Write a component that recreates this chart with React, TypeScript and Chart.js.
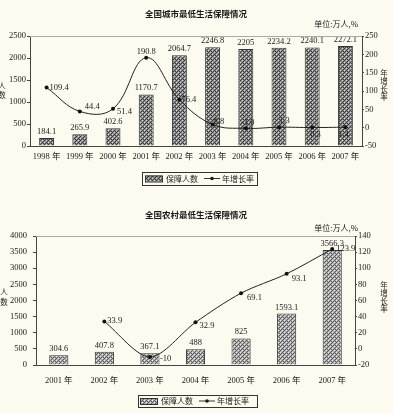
import React, { useEffect, useRef } from 'react';
import { Chart, registerables } from 'chart.js';
Chart.register(...registerables);

// ---------- data ----------
const CITY_YEARS = ['1998 年', '1999 年', '2000 年', '2001 年', '2002 年', '2003 年', '2004 年', '2005 年', '2006 年', '2007 年'];
const CITY_PEOPLE = [184.1, 265.9, 402.6, 1170.7, 2064.7, 2246.8, 2205, 2234.2, 2240.1, 2272.1];
const CITY_GROWTH = [109.4, 44.4, 51.4, 190.8, 76.4, 8.8, -1.9, 1.3, 0.3, 1.4];

const RURAL_YEARS = ['2001 年', '2002 年', '2003 年', '2004 年', '2005 年', '2006 年', '2007 年'];
const RURAL_PEOPLE = [304.6, 407.8, 367.1, 488, 825, 1593.1, 3566.3];
const RURAL_GROWTH: (number | null)[] = [null, 33.9, -10, 32.9, 69.1, 93.1, 123.9];

const CITY_TITLE = '全国城市最低生活保障情况';
const RURAL_TITLE = '全国农村最低生活保障情况';
const UNIT_TEXT = '单位:万人,%';
const LEGEND_BAR = '保障人数';
const LEGEND_LINE = '年增长率';
const LEFT_TITLE = '人数';
const RIGHT_TITLE = '年增长率';

// label placement styles for growth labels: [dx, dy, align]
const CITY_GROWTH_POS: [number, number, CanvasTextAlign][] = [
  [3, 0, 'left'], [5, -5, 'left'], [4, 3, 'left'], [0, -6, 'center'], [2, 0, 'left'],
  [1, -3, 'left'], [2, -6, 'center'], [0, -6, 'left'], [-2, 7, 'left'], [-2, 8, 'center'],
];
const RURAL_GROWTH_POS: [number, number, CanvasTextAlign][] = [
  [3, 0, 'left'], [3, -1, 'left'], [10, 2, 'left'], [4, 3, 'left'], [6, 5, 'left'], [5, 5, 'left'], [4, 0, 'left'],
];

const SERIF = '"Liberation Serif", "Times New Roman", "Noto Sans CJK SC", serif';
const CJK = '"Noto Sans CJK SC", sans-serif';
const TEXT = '#1a1a1a';
const BG = '#fdfbef';

function makePattern(base: string, dark: string, light: string) {
  const c = document.createElement('canvas');
  c.width = 4; c.height = 4;
  const g = c.getContext('2d')!;
  g.fillStyle = base; g.fillRect(0, 0, 4, 4);
  g.fillStyle = dark;
  [[0, 0], [2, 2], [1, 3], [3, 1], [3, 3]].forEach(([x, y]) => g.fillRect(x, y, 1, 1));
  g.fillStyle = light;
  [[2, 0], [0, 2]].forEach(([x, y]) => g.fillRect(x, y, 1, 1));
  return g.createPattern(c, 'repeat')!;
}

type Cfg = {
  labels: string[]; people: number[]; growth: (number | null)[];
  growthPos: [number, number, CanvasTextAlign][];
  leftMax: number; leftStep: number; rightMin: number; rightMax: number; rightStep: number;
  title: string; titleY: number; unitY: number;
  padTop: number; xHeight: number; leftW: number; rightW: number;
  leftTickLen: number; leftPad: number; xPad: number;
  barPct: number; tension: number;
  leftTitleX: number; leftTitleY: number[]; rightTitleX: number; rightTitleY: number[];
  legend: { x0: number; x1: number; y0: number; y1: number; sw0: number; sw1: number; t1: number; l0: number; l1: number; t2: number };
  pat: [string, string, string];
};

function buildChart(canvas: HTMLCanvasElement, cfg: Cfg) {
  const pattern = makePattern(...cfg.pat);
  const font = { family: SERIF, size: 8.5 };
  const plain = (v: any) => String(v);
  const deco = {
    id: 'deco',
    afterDatasetsDraw(chart: any) {
      const ctx = chart.ctx as CanvasRenderingContext2D;
      ctx.save();
      ctx.fillStyle = TEXT;
      ctx.font = `8.5px ${SERIF}`;
      const barMeta = chart.getDatasetMeta(0);
      barMeta.data.forEach((el: any, i: number) => {
        ctx.textAlign = 'center'; ctx.textBaseline = 'bottom';
        ctx.fillText(String(cfg.people[i]), el.x, el.y - 2);
      });
      const lineMeta = chart.getDatasetMeta(1);
      lineMeta.data.forEach((el: any, i: number) => {
        const v = cfg.growth[i];
        if (v === null || v === undefined) return;
        const [dx, dy, al] = cfg.growthPos[i];
        ctx.textAlign = al; ctx.textBaseline = 'middle';
        ctx.fillText(String(v), el.x + dx, el.y + dy);
      });
      ctx.restore();
    },
    afterDraw(chart: any) {
      const ctx = chart.ctx as CanvasRenderingContext2D;
      const a = chart.chartArea;
      ctx.save();
      ctx.strokeStyle = '#aaa'; ctx.lineWidth = 1;
      ctx.beginPath(); ctx.moveTo(a.left, a.top + 0.5); ctx.lineTo(a.right, a.top + 0.5); ctx.stroke();
      ctx.fillStyle = TEXT;
      ctx.font = `bold 8.5px ${CJK}`;
      ctx.textAlign = 'center'; ctx.textBaseline = 'middle';
      ctx.fillText(cfg.title, 196, cfg.titleY);
      ctx.font = `8px ${CJK}`;
      ctx.textAlign = 'right';
      ctx.fillText(UNIT_TEXT, 358, cfg.unitY);
      ctx.textAlign = 'center';
      ctx.font = `7.5px ${CJK}`;
      Array.from(LEFT_TITLE).forEach((ch, i) => ctx.fillText(ch, cfg.leftTitleX, cfg.leftTitleY[i]));
      Array.from(RIGHT_TITLE).forEach((ch, i) => ctx.fillText(ch, cfg.rightTitleX, cfg.rightTitleY[i]));
      const L = cfg.legend;
      const my = (L.y0 + L.y1) / 2;
      ctx.strokeStyle = '#333'; ctx.lineWidth = 1;
      ctx.strokeRect(L.x0 + 0.5, L.y0 + 0.5, L.x1 - L.x0, L.y1 - L.y0);
      ctx.fillStyle = pattern;
      ctx.fillRect(L.sw0, my - 3, L.sw1 - L.sw0, 6);
      ctx.strokeRect(L.sw0 + 0.5, my - 3 + 0.5, L.sw1 - L.sw0, 6);
      ctx.fillStyle = TEXT;
      ctx.font = `8px ${CJK}`;
      ctx.textAlign = 'left';
      ctx.fillText(LEGEND_BAR, L.t1, my);
      ctx.beginPath(); ctx.moveTo(L.l0, my); ctx.lineTo(L.l1, my); ctx.stroke();
      ctx.beginPath(); ctx.arc((L.l0 + L.l1) / 2, my, 1.8, 0, Math.PI * 2); ctx.fill();
      ctx.fillText(LEGEND_LINE, L.t2, my);
      ctx.restore();
    },
  };

  return new Chart(canvas, {
    type: 'bar',
    data: {
      labels: cfg.labels,
      datasets: [
        {
          type: 'bar', label: LEGEND_BAR, data: cfg.people, yAxisID: 'y',
          backgroundColor: pattern, borderColor: '#333', borderWidth: 1,
          categoryPercentage: 1, barPercentage: cfg.barPct, order: 2,
        } as any,
        {
          type: 'line', label: LEGEND_LINE, data: cfg.growth, yAxisID: 'y1',
          borderColor: '#222', borderWidth: 1, backgroundColor: '#111',
          pointRadius: 2, pointBackgroundColor: '#111', pointBorderWidth: 0,
          tension: cfg.tension, order: 1, spanGaps: false,
        } as any,
      ],
    },
    options: {
      responsive: false, animation: false,
      layout: { padding: { top: cfg.padTop, left: 0, right: 0, bottom: 0 } },
      plugins: { legend: { display: false }, tooltip: { enabled: false }, title: { display: false } },
      scales: {
        x: {
          grid: { display: true, drawOnChartArea: false, drawTicks: false, color: '#444' },
          border: { display: true, color: '#444', width: 1 },
          ticks: { font, color: TEXT, padding: cfg.xPad, maxRotation: 0, autoSkip: false },
          afterFit: (s: any) => { s.height = cfg.xHeight; },
        },
        y: {
          position: 'left', min: 0, max: cfg.leftMax,
          grid: { display: true, drawOnChartArea: false, drawTicks: true, tickLength: cfg.leftTickLen, color: '#444' },
          border: { display: true, color: '#444', width: 1 },
          ticks: { stepSize: cfg.leftStep, font, color: TEXT, padding: cfg.leftPad, callback: plain },
          afterFit: (s: any) => { s.width = cfg.leftW; },
        },
        y1: {
          position: 'right', min: cfg.rightMin, max: cfg.rightMax,
          grid: { display: true, drawOnChartArea: false, drawTicks: true, tickLength: 2, color: '#444' },
          border: { display: true, color: '#444', width: 1 },
          ticks: { stepSize: cfg.rightStep, font, color: TEXT, padding: 1, callback: plain },
          afterFit: (s: any) => { s.width = cfg.rightW; },
        },
      },
    } as any,
    plugins: [deco],
  });
}

function ChartCanvas({ cfg, width, height, top }: { cfg: Cfg; width: number; height: number; top: number }) {
  const ref = useRef<HTMLCanvasElement>(null);
  useEffect(() => {
    const chart = buildChart(ref.current!, cfg);
    return () => chart.destroy();
  }, []);
  return <canvas ref={ref} width={width} height={height} style={{ position: 'absolute', left: 0, top, width, height }} />;
}

const cityCfg: Cfg = {
  labels: CITY_YEARS, people: CITY_PEOPLE, growth: CITY_GROWTH, growthPos: CITY_GROWTH_POS,
  leftMax: 2500, leftStep: 500, rightMin: -50, rightMax: 250, rightStep: 50,
  title: CITY_TITLE, titleY: 14, unitY: 24,
  padTop: 36, xHeight: 44, leftW: 30, rightW: 31, leftTickLen: 3, leftPad: 1, xPad: 6,
  barPct: 0.45, tension: 0.4,
  leftTitleX: 2, leftTitleY: [86, 95], rightTitleX: 384, rightTitleY: [73, 81, 89, 97],
  legend: { x0: 142, x1: 257, y0: 172, y1: 185, sw0: 145, sw1: 162, t1: 166, l0: 204, l1: 220, t2: 222 },
  pat: ['#8e8e8e', '#3a3a3a', '#d8d8d8'],
};

const ruralCfg: Cfg = {
  labels: RURAL_YEARS, people: RURAL_PEOPLE, growth: RURAL_GROWTH, growthPos: RURAL_GROWTH_POS,
  leftMax: 4000, leftStep: 500, rightMin: -20, rightMax: 140, rightStep: 20,
  title: RURAL_TITLE, titleY: 25, unitY: 38,
  padTop: 46, xHeight: 48, leftW: 36, rightW: 38, leftTickLen: 3, leftPad: 6, xPad: 11,
  barPct: 0.42, tension: 0.3,
  leftTitleX: 4, leftTitleY: [102, 112], rightTitleX: 384, rightTitleY: [95, 103, 111, 119],
  legend: { x0: 138, x1: 257, y0: 205, y1: 217, sw0: 140, sw1: 157, t1: 161, l0: 199, l1: 215, t2: 217 },
  pat: ['#b0b0b0', '#5a5a5a', '#e8e8e8'],
};

export default function App() {
  return (
    <div style={{ position: 'fixed', left: 0, top: 0, width: 393, height: 413, background: BG, overflow: 'hidden' }}>
      <ChartCanvas cfg={cityCfg} width={393} height={190} top={0} />
      <ChartCanvas cfg={ruralCfg} width={393} height={223} top={190} />
    </div>
  );
}
